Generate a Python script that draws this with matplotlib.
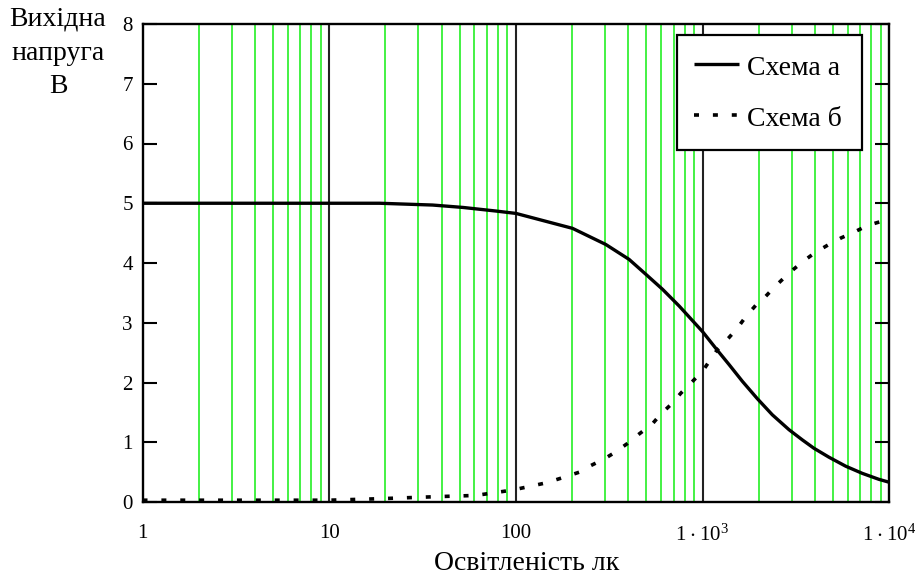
import matplotlib
matplotlib.use("Agg")
import matplotlib.pyplot as plt
import matplotlib.ticker as mticker

plt.rcParams['font.family'] = ['Liberation Serif', 'DejaVu Serif']
plt.rcParams['lines.scale_dashes'] = False

# Схема а (solid)
lux_a = [1, 2, 5, 10, 18.6, 35.8, 52, 78, 100, 201, 303, 404, 497, 610, 749, 1000,
         1178, 1386, 1633, 1963, 2362, 2903, 3420, 3945, 4750, 5834, 7160, 8785, 10000]
volt_a = [5.0, 5.0, 5.0, 5.0, 5.0, 4.97, 4.93, 4.87, 4.83, 4.58, 4.31, 4.06, 3.81, 3.56,
          3.28, 2.85, 2.57, 2.30, 2.02, 1.73, 1.46, 1.21, 1.04, 0.90, 0.75, 0.60, 0.48,
          0.38, 0.33]

# Схема б (dotted)
lux_b = [1, 2, 5, 10, 18.6, 38.2, 61, 96, 145, 175, 219, 252, 297, 343, 396, 458, 539,
         597, 676, 764, 865, 1000, 1083, 1200, 1374, 1535, 1702, 1924, 2159, 2431, 2728,
         3084, 3534, 4030, 4748, 5521, 6511, 7673, 9150, 10000]
volt_b = [0.03, 0.03, 0.03, 0.03, 0.055, 0.09, 0.11, 0.2, 0.32, 0.40, 0.5, 0.61, 0.72,
          0.84, 0.98, 1.14, 1.31, 1.47, 1.63, 1.82, 1.99, 2.19, 2.35, 2.55, 2.74, 2.91,
          3.10, 3.29, 3.43, 3.60, 3.75, 3.90, 4.05, 4.18, 4.31, 4.42, 4.52, 4.63, 4.70,
          4.72]

x_ticks = [1, 10, 100, 1000, 10000]
x_ticklabels = ['1', '10', '100', r'$\mathregular{1\cdot10^{3}}$', r'$\mathregular{1\cdot10^{4}}$']
y_ticks = [0, 1, 2, 3, 4, 5, 6, 7, 8]
minor_grid = [m * 10**d for d in range(4) for m in range(2, 10)]
major_grid = [10, 100, 1000]

fig = plt.figure(figsize=(9.15, 5.82), dpi=100)
ax = fig.add_axes([142.5/915, 1-502/582, (889.3-142.5)/915, (502-24)/582])

for v in minor_grid:
    ax.axvline(v, color='#11ee11', lw=1.1, zorder=1)
for v in major_grid:
    ax.axvline(v, color='#222222', lw=1.5, zorder=1)

ax.plot(lux_a, volt_a, color='black', lw=2.4, solid_capstyle='butt', zorder=3, label='Схема а')
ax.plot(lux_b, volt_b, color='black', lw=2.6, linestyle=(0, (3.6, 10)), zorder=3, label='Схема б')

ax.set_xscale('log')
ax.set_xlim(1, 10000)
ax.set_ylim(0, 8)
ax.set_xticks(x_ticks)
ax.set_xticklabels(x_ticklabels)
ax.xaxis.set_minor_locator(mticker.NullLocator())
ax.set_yticks(y_ticks)
ax.tick_params(axis='x', length=0, pad=16, labelsize=15)
ax.tick_params(axis='y', direction='in', length=10, width=1.5, right=True, labelsize=15, pad=7)
for s in ax.spines.values():
    s.set_linewidth(1.7)

ax.set_xlabel('Освітленість лк', fontsize=20)
ax.xaxis.set_label_coords((527 - 142.5) / 746.8, -(563 - 502) / 478)
ax.xaxis.label.set_va('center')
fig.text(58/915, 1-53/582, 'Вихідна\nнапруга\nВ', ha='center', va='center', fontsize=20,
         linespacing=1.45)

x0 = (677 - 142.5) / 746.8
w = (862 - 677) / 746.8
y_top = (502 - 35) / 478
h = (149 - 35) / 478
leg = ax.legend(loc='upper left', bbox_to_anchor=(x0, y_top - h, w, h), mode='expand',
                fontsize=20, frameon=True, fancybox=False, edgecolor='black',
                handlelength=1.62, handletextpad=0.28, handleheight=1.13,
                labelspacing=0.8, borderpad=0.62, borderaxespad=0)
leg.get_frame().set_linewidth(1.6)
leg.get_frame().set_alpha(1)

fig.savefig('out.png', dpi=100)
